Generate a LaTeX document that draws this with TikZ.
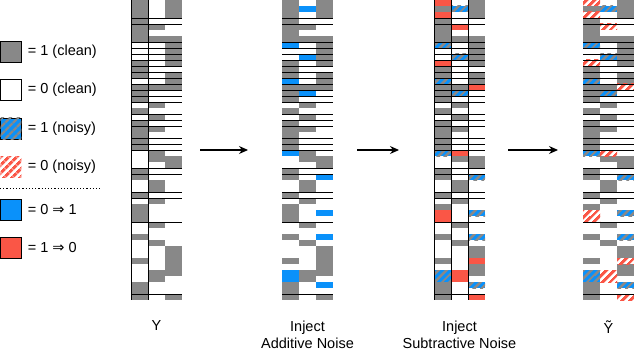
\documentclass[tikz,border=0pt]{standalone}
\usepackage{fontspec}
\setmainfont{Liberation Sans}
\newfontfamily\symfont{DejaVu Sans}
\usetikzlibrary{arrows.meta, positioning, patterns.meta}

\definecolor{cellgray}{RGB}{136,136,136}
\definecolor{flipblue}{RGB}{10,145,250}
\definecolor{flipred}{RGB}{250,86,70}

% clean label matrix Y: one entry per row (col1/col2/col3)
\def\ymat{1/0/1, 1/0/1, 1/0/1, 1/0/0, 1/1/0, 1/0/0, 1/1/1, 0/0/1, 0/0/1, 0/0/1,
  1/0/1, 1/0/0, 1/0/1, 0/0/1, 1/1/1, 1/0/0, 1/0/0, 0/1/0, 1/0/0, 0/1/0,
  1/0/0, 1/1/0, 1/0/0, 1/0/0, 1/0/0, 0/1/0, 0/1/1, 0/0/1, 1/0/0, 1/0/0,
  0/1/0, 0/1/0, 1/0/0, 0/1/0, 1/0/0, 1/0/0, 1/0/0, 0/1/0, 0/0/0, 1/0/0,
  0/1/0, 0/0/1, 0/0/1, 1/0/1, 0/0/1, 0/1/1, 0/1/0, 1/0/0, 1/0/0, 1/0/1}
% flipped cells (row/col)
\def\addcells{1/2, 7/1, 9/2, 13/1, 15/2, 25/1, 29/3, 35/3, 39/3, 45/1, 46/1, 47/3}
\def\subcells{0/1, 2/1, 4/2, 10/1, 14/3, 25/2, 35/1, 36/1, 43/3, 45/2, 46/2, 49/3}
% row separators
\def\rowlines{3,4,7,8,9,10,11,12,13,14,15,16,17,19,20,21,23,24,25,28,29,32,33,37,49}

\newcommand{\labelmat}[1]{%
  \foreach \pa/\pb/\pc [count=\rw from 0] in \ymat {
    \fill[cell\pa] (#1,6*\rw) rectangle ++(17,6);
    \fill[cell\pb] (#1+17,6*\rw) rectangle ++(17,6);
    \fill[cell\pc] (#1+34,6*\rw) rectangle ++(17,6);
  }}
\newcommand{\markcells}[3]{%
  \foreach \rw/\cl in #2 {\fill[#3] (#1+17*\cl-17,6*\rw) rectangle ++(17,6);}}
\newcommand{\matlines}[1]{%
  \foreach \bd in \rowlines {\draw[rowline] (#1,6*\bd) -- ++(51,0);}}

\begin{document}
\begin{tikzpicture}[
    x=1pt, y=-1pt,
    every node/.style={font=\fontsize{14.5}{17}\selectfont},
    cell0/.style={fill=white},
    cell1/.style={fill=cellgray},
    flipon/.style={fill=flipblue},
    flipoff/.style={fill=flipred},
    noisyon/.style={fill=flipblue, postaction={pattern={Lines[angle=45,distance=5.4pt,line width=2.7pt]}, pattern color=cellgray}},
    noisyoff/.style={fill=white, postaction={pattern={Lines[angle=45,distance=5.4pt,line width=3.1pt]}, pattern color=flipred}},
    rowline/.style={draw=black, line width=0.9pt},
    keybox/.style={draw=black, line width=0.8pt, minimum width=21pt, minimum height=21pt, inner sep=0pt},
    keytext/.style={inner sep=0pt},
    caption/.style={align=center, inner sep=0pt, anchor=north},
    flow/.style={-{Stealth[length=9pt,width=8pt]}, line width=1.2pt},
    sepline/.style={line width=0.7pt, dash pattern=on 1.2pt off 2pt}
  ]
  \useasboundingbox (0,0) rectangle (634,350);

  % Legend
  \node[keybox, cell1] (keyone) at (10.8,52) {};
  \node[keytext, right=6pt of keyone] (txtone) {= 1 (clean)};
  \node[keybox, cell0] (keyzero) at (10.8,89.7) {};
  \node[keytext, right=6pt of keyzero] (txtzero) {= 0 (clean)};
  \node[keybox, noisyon] (keynone) at (10.8,128.5) {};
  \node[keytext, right=6pt of keynone] (txtnone) {= 1 (noisy)};
  \node[keybox, noisyoff, draw=none] (keynzero) at (10.8,167) {};
  \node[keytext, right=6pt of keynzero] (txtnzero) {= 0 (noisy)};
  \coordinate (sepl) at (0,188.3);
  \coordinate (sepr) at (100,188.3);
  \draw[sepline] (sepl) -- (sepr);
  \node[keybox, flipon] (keyup) at (10.8,209.5) {};
  \node[keytext, right=6pt of keyup] (txtup) {= 0 {\symfont ⇒} 1};
  \node[keybox, flipoff] (keydown) at (10.8,247.8) {};
  \node[keytext, right=6pt of keydown] (txtdown) {= 1 {\symfont ⇒} 0};

  % Clean labels Y
  \labelmat{131}
  % After additive noise
  \labelmat{282}
  \markcells{282}{\addcells}{flipon}
  % After subtractive noise
  \labelmat{434}
  \markcells{434}{\addcells}{noisyon}
  \markcells{434}{\subcells}{flipoff}
  % Noisy labels
  \labelmat{583}
  \markcells{583}{\addcells}{noisyon}
  \markcells{583}{\subcells}{noisyoff}

  % Row and column rules
  \foreach \mx in {131,282,434,583} {\matlines{\mx}}
  \foreach \vx in {131,148,434,451,468} {\draw[rowline] (\vx,0) -- ++(0,300);}

  % Captions
  \node[caption] (capy) at (156.5,320.5) {Y};
  \node[caption] (capadd) at (307.5,320.5) {Inject\\Additive Noise};
  \node[caption] (capsub) at (459.5,320.5) {Inject\\Subtractive Noise};
  \node[caption] (capnoisy) at (608.5,320.5) {Ỹ};

  % Steps
  \coordinate (sa) at (200,150);
  \coordinate (ea) at (248,150);
  \coordinate (sb) at (357,150);
  \coordinate (eb) at (399,150);
  \coordinate (sc) at (508,150);
  \coordinate (ec) at (558,150);
  \draw[flow] (sa) -- (ea);
  \draw[flow] (sb) -- (eb);
  \draw[flow] (sc) -- (ec);
\end{tikzpicture}
\end{document}
